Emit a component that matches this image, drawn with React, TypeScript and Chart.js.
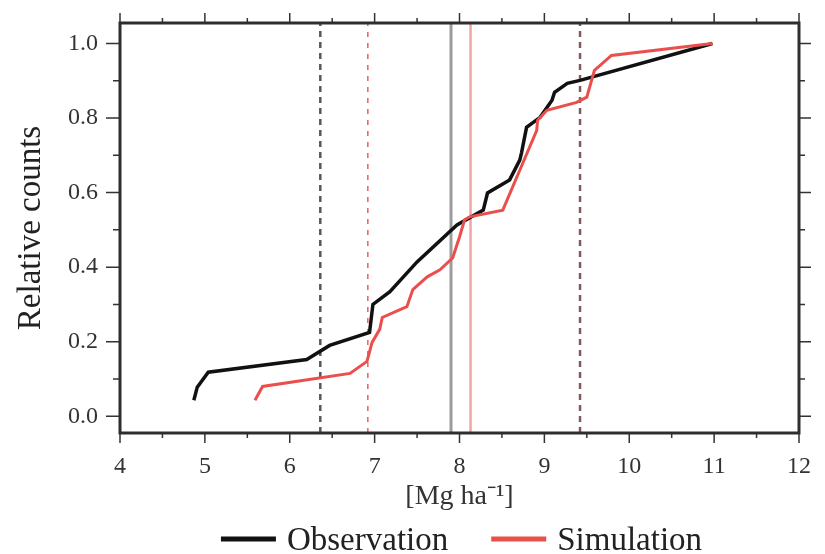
import React, { useEffect, useRef } from 'react';
import { Chart, registerables } from 'chart.js';
Chart.register(...registerables);

// Observation cumulative curve
const obsX = [4.87, 4.91, 5.04, 6.2, 6.47, 6.94, 6.98, 7.18, 7.5, 7.97, 8.28, 8.33, 8.59, 8.71, 8.73, 8.79, 8.95, 9.09, 9.12, 9.27, 9.42, 10.98];
const obsY = [0.043, 0.078, 0.118, 0.152, 0.19, 0.225, 0.3, 0.334, 0.414, 0.513, 0.553, 0.599, 0.634, 0.687, 0.706, 0.775, 0.802, 0.848, 0.869, 0.893, 0.901, 1.0];
// Simulation cumulative curve
const simX = [5.59, 5.68, 6.71, 6.91, 6.97, 7.06, 7.09, 7.38, 7.45, 7.62, 7.77, 7.92, 8.0, 8.06, 8.12, 8.51, 8.71, 8.91, 8.92, 9.03, 9.38, 9.5, 9.59, 9.79, 10.98];
const simY = [0.043, 0.08, 0.115, 0.147, 0.198, 0.233, 0.265, 0.294, 0.34, 0.374, 0.393, 0.425, 0.481, 0.527, 0.535, 0.553, 0.66, 0.767, 0.794, 0.821, 0.842, 0.856, 0.928, 0.968, 1.0];

// Reference vertical lines
const obsDashedX = [6.36, 9.42];
const simDashedX = [6.92, 9.42];
const obsMeanX = [7.9];
const simMeanX = [8.13];

const xTicks = [4, 5, 6, 7, 8, 9, 10, 11, 12];
const yTicks = [0, 0.2, 0.4, 0.6, 0.8, 1.0];
const xMin = 4, xMax = 12, yMin = -0.045, yMax = 1.055;

const seriesLabels = ['Observation', 'Simulation'];
const OBS_COLOR = '#111111';
const SIM_COLOR = '#ea4f4c';
const SERIF = '"Liberation Serif", "Times New Roman", serif';

const toPts = (xs: number[], ys: number[]) => xs.map((x, i) => ({ x, y: ys[i] }));
const vline = (x: number) => [{ x, y: yMin }, { x, y: yMax }];

const framePlugin = {
  id: 'frameTicks',
  afterDraw(chart: any) {
    const { ctx, chartArea: a, scales } = chart;
    const xs = scales.x, ys = scales.y;
    ctx.save();
    ctx.strokeStyle = '#333333';
    ctx.lineWidth = 1.5;
    for (let i = 0; i < xTicks.length; i++) {
      const px = xs.getPixelForValue(xTicks[i]);
      ctx.beginPath();
      ctx.moveTo(px, a.bottom); ctx.lineTo(px, a.bottom + 10);
      ctx.moveTo(px, a.top); ctx.lineTo(px, a.top - 10);
      ctx.stroke();
      if (i < xTicks.length - 1) {
        const mx = xs.getPixelForValue((xTicks[i] + xTicks[i + 1]) / 2);
        ctx.beginPath();
        ctx.moveTo(mx, a.bottom); ctx.lineTo(mx, a.bottom + 5);
        ctx.moveTo(mx, a.top); ctx.lineTo(mx, a.top - 5);
        ctx.stroke();
      }
    }
    for (let i = 0; i < yTicks.length; i++) {
      const py = ys.getPixelForValue(yTicks[i]);
      ctx.beginPath();
      ctx.moveTo(a.left, py); ctx.lineTo(a.left - 14, py);
      ctx.moveTo(a.right, py); ctx.lineTo(a.right + 12, py);
      ctx.stroke();
      if (i < yTicks.length - 1) {
        const my = ys.getPixelForValue((yTicks[i] + yTicks[i + 1]) / 2);
        ctx.beginPath();
        ctx.moveTo(a.left, my); ctx.lineTo(a.left - 7, my);
        ctx.moveTo(a.right, my); ctx.lineTo(a.right + 6, my);
        ctx.stroke();
      }
    }
    ctx.lineWidth = 3;
    ctx.strokeStyle = '#2e2e2e';
    ctx.strokeRect(a.left, a.top, a.right - a.left, a.bottom - a.top);

    // legend
    const items = [
      { text: seriesLabels[0], color: OBS_COLOR },
      { text: seriesLabels[1], color: SIM_COLOR },
    ];
    ctx.font = `33px ${SERIF}`;
    const lineLen = 55, gapText = 11, gapItem = 43;
    const widths = items.map((it) => ctx.measureText(it.text).width);
    const total = widths.reduce((s, w) => s + lineLen + gapText + w, 0) + gapItem;
    let cx = (a.left + a.right) / 2 - total / 2 + 2;
    const ly = 539;
    items.forEach((it, i) => {
      ctx.strokeStyle = it.color;
      ctx.lineWidth = 5;
      ctx.beginPath();
      ctx.moveTo(cx, ly); ctx.lineTo(cx + lineLen, ly);
      ctx.stroke();
      ctx.fillStyle = '#222222';
      ctx.textBaseline = 'alphabetic';
      ctx.textAlign = 'left';
      ctx.fillText(it.text, cx + lineLen + gapText, 550);
      cx += lineLen + gapText + widths[i] + gapItem;
    });
    ctx.restore();
  },
};

const zeroPad = (s: any) => { s.paddingTop = 0; s.paddingBottom = 0; s.paddingLeft = 0; s.paddingRight = 0; };

export default function App() {
  const ref = useRef<HTMLCanvasElement>(null);
  useEffect(() => {
    if (!ref.current) return;
    const refDs = (x: number, color: string, width: number, dash: number[]) => ({
      label: '',
      data: vline(x),
      borderColor: color,
      borderWidth: width,
      borderDash: dash,
      pointRadius: 0,
      fill: false,
      order: 3,
    });
    const chart = new Chart(ref.current, {
      type: 'line',
      data: {
        datasets: [
          {
            label: seriesLabels[1],
            data: toPts(simX, simY),
            borderColor: SIM_COLOR,
            backgroundColor: SIM_COLOR,
            borderWidth: 3,
            pointRadius: 0,
            tension: 0,
            order: 0,
          },
          {
            label: seriesLabels[0],
            data: toPts(obsX, obsY),
            borderColor: OBS_COLOR,
            backgroundColor: OBS_COLOR,
            borderWidth: 3.5,
            pointRadius: 0,
            tension: 0,
            order: 1,
          },
          refDs(obsMeanX[0], '#9c9c9c', 3, []),
          refDs(simMeanX[0], '#f4a3a3', 2.5, []),
          refDs(obsDashedX[0], 'rgba(70,70,70,0.9)', 2.5, [6, 5]),
          refDs(obsDashedX[1], 'rgba(110,70,75,0.85)', 2.5, [6, 5]),
          refDs(simDashedX[0], '#e8605e', 1.5, [5, 6]),
          refDs(simDashedX[1], 'rgba(200,80,80,0.35)', 2, [6, 5]),
        ],
      },
      options: {
        animation: false,
        responsive: false,
        maintainAspectRatio: false,
        layout: { padding: { left: 0, right: 26, top: 23, bottom: 41 } },
        plugins: {
          legend: { display: false },
          tooltip: { enabled: false },
        },
        scales: {
          x: {
            type: 'linear',
            min: xMin,
            max: xMax,
            grid: { display: false, drawTicks: false },
            border: { display: false },
            afterBuildTicks: (s: any) => { s.ticks = xTicks.map((v) => ({ value: v })); },
            afterFit: (s: any) => { s.height = 80; zeroPad(s); },
            ticks: {
              padding: 19,
              color: '#333333',
              font: { family: SERIF, size: 24 },
              maxRotation: 0,
              callback: (v: any) => String(v),
            },
            title: {
              display: true,
              text: '[Mg ha\u207B\u00B9]',
              color: '#333333',
              font: { family: SERIF, size: 28 },
              padding: { top: 0, bottom: 0 },
            },
          },
          y: {
            type: 'linear',
            min: yMin,
            max: yMax,
            grid: { display: false, drawTicks: false },
            border: { display: false },
            afterBuildTicks: (s: any) => { s.ticks = yTicks.map((v) => ({ value: v })); },
            afterFit: (s: any) => { s.width = 120; zeroPad(s); },
            ticks: {
              padding: 22,
              color: '#333333',
              font: { family: SERIF, size: 24 },
              callback: (v: any) => Number(v).toFixed(1),
            },
            title: {
              display: true,
              text: 'Relative counts',
              color: '#222222',
              font: { family: SERIF, size: 33 },
              padding: { top: 12, bottom: 0 },
            },
          },
        },
      },
      plugins: [framePlugin],
    });
    return () => chart.destroy();
  }, []);
  return (
    <div style={{ position: 'absolute', left: 0, top: 0, width: 825, height: 554, background: '#fff' }}>
      <canvas ref={ref} width={825} height={554} />
    </div>
  );
}
